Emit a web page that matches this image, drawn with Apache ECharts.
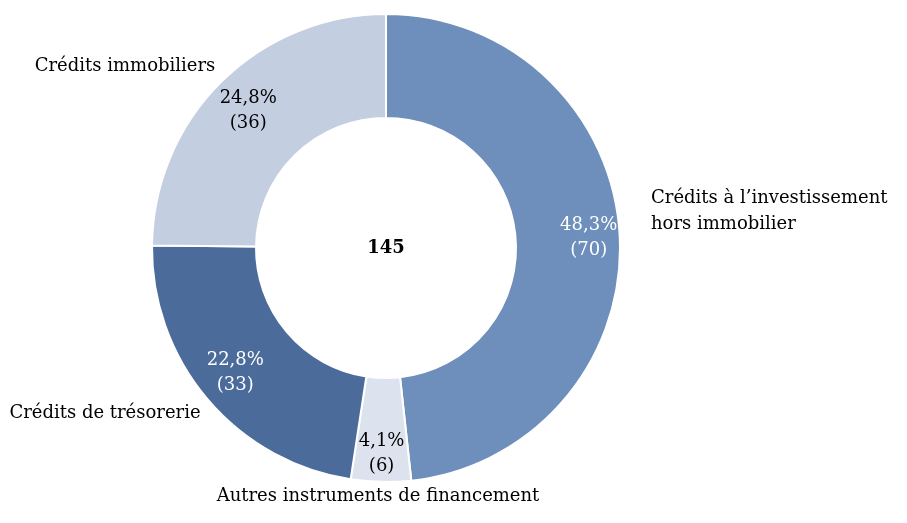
<!DOCTYPE html>
<html><head><meta charset="utf-8">
<script src="https://cdn.jsdelivr.net/npm/echarts@6/dist/echarts.min.js"></script>
<style>html,body{margin:0;padding:0;background:#fff}#c{width:907px;height:523px}</style>
</head><body><div id="c"></div>
<script>
const categories = ["Crédits à l’investissement\nhors immobilier", "Autres instruments de financement", "Crédits de trésorerie", "Crédits immobiliers"];
const values = [70, 6, 33, 36];

// styling / layout
const colors = ["#6E8EBB", "#DDE3EE", "#4B6B9A", "#C3CEE1"];
const labelColors = ["#ffffff", "#000000", "#ffffff", "#000000"];
const labelOffsets = [[0, 1], [0, 3], [4, -7], [5, 7]];
const catPos = [[651, 211, 'left'], [378, 496, 'center'], [105, 413, 'center'], [125, 66, 'center']];
const FONT = "DejaVu Serif";
const FS = 18;

const total = values.reduce((a, b) => a + b, 0);
const fmtPct = v => (Math.round(v / total * 1000) / 10).toFixed(1).replace('.', ',') + '%';

const chart = echarts.init(document.getElementById('c'), null, {renderer: 'canvas'});

const g = [{type: 'text', x: 386, y: 248, style: {text: String(total), fontFamily: FONT, fontWeight: 'bold', fontSize: FS, fill: '#000', align: 'center', verticalAlign: 'middle'}}];
categories.forEach((c, i) => {
  g.push({type: 'text', x: catPos[i][0], y: catPos[i][1], style: {text: c, fontFamily: FONT, fontSize: FS, lineHeight: 26, fill: '#000', align: catPos[i][2], verticalAlign: 'middle'}});
});

chart.setOption({
  animation: false,
  series: [
    {
      type: 'pie', center: [386, 248], radius: [130, 234], startAngle: 90, clockwise: true,
      silent: true, label: {show: false}, labelLine: {show: false},
      itemStyle: {borderColor: '#fff', borderWidth: 2},
      data: values.map((v, i) => ({value: v, name: categories[i], itemStyle: {color: colors[i]}}))
    },
    {
      type: 'pie', center: [386, 248], radius: [166, 234], startAngle: 90, clockwise: true,
      silent: true, labelLine: {show: false},
      itemStyle: {color: 'rgba(0,0,0,0)'},
      data: values.map((v, i) => ({
        value: v, name: categories[i],
        label: {
          show: true, position: 'inside', color: labelColors[i],
          fontFamily: FONT, fontSize: FS, lineHeight: 25,
          offset: labelOffsets[i],
          formatter: () => fmtPct(v) + '\n(' + v + ')'
        }
      }))
    }
  ],
  graphic: g
});
</script></body></html>
